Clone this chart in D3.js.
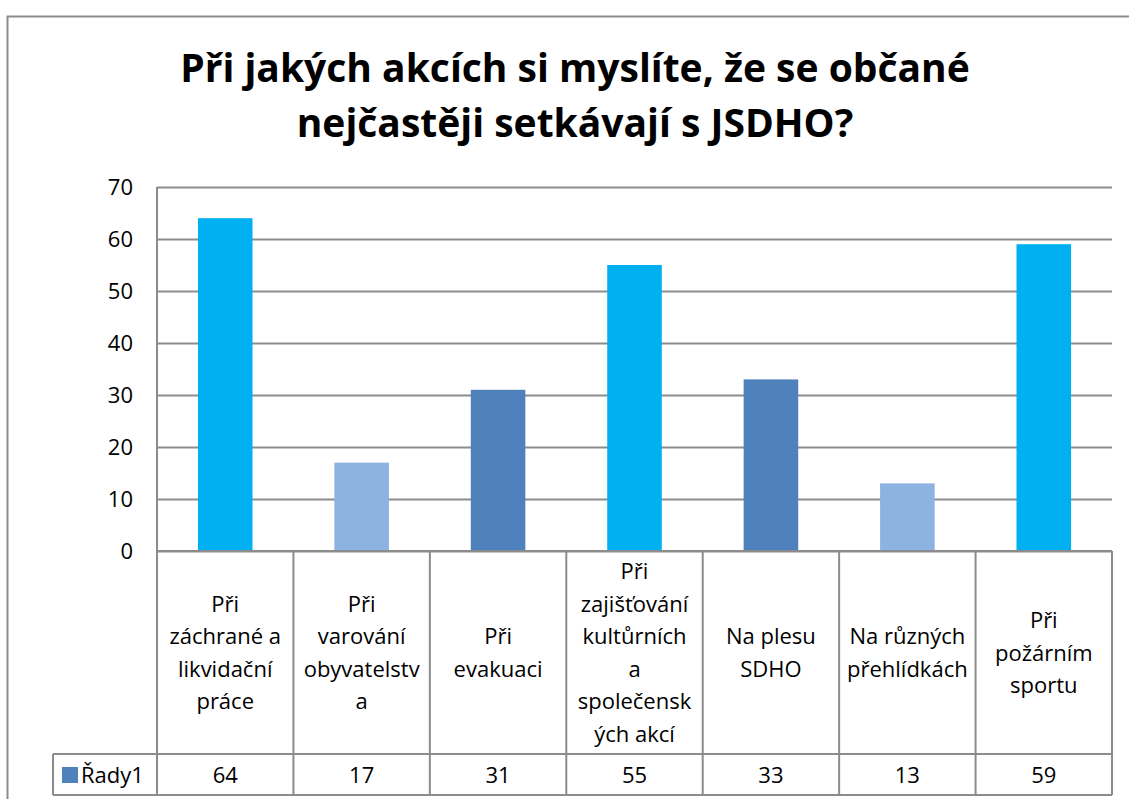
<!DOCTYPE html>
<html>
<head>
<meta charset="utf-8">
<script src="https://cdn.jsdelivr.net/npm/d3@7"></script>
<style>
  body { margin: 0; background: #fff; }
  svg text { font-family: "Open Sans", "Noto Sans", sans-serif; fill: #000; }
</style>
</head>
<body>
<div class="chart"></div>
<script>
// data
var title = ['Při jakých akcích si myslíte, že se občané', 'nejčastěji setkávají s JSDHO?'];
var categories = [
  'Při záchrané a likvidační práce',
  'Při varování obyvatelstva',
  'Při evakuaci',
  'Při zajišťování kultůrních a společenských akcí',
  'Na plesu SDHO',
  'Na různých přehlídkách',
  'Při požárním sportu'
];
// how Excel wrapped the labels in the table cells
var categoryLines = [
  ['Při', 'záchrané a', 'likvidační', 'práce'],
  ['Při', 'varování', 'obyvatelstv', 'a'],
  ['Při', 'evakuaci'],
  ['Při', 'zajišťování', 'kultůrních', 'a', 'společensk', 'ých akcí'],
  ['Na plesu', 'SDHO'],
  ['Na různých', 'přehlídkách'],
  ['Při', 'požárním', 'sportu']
];
var seriesName = 'Řady1';
var values = [64, 17, 31, 55, 33, 13, 59];
var yTicks = [0, 10, 20, 30, 40, 50, 60, 70];

var colorFor = {
  'Při záchrané a likvidační práce': '#00B0F0',
  'Při varování obyvatelstva': '#8DB3E2',
  'Při evakuaci': '#4F81BD',
  'Při zajišťování kultůrních a společenských akcí': '#00B0F0',
  'Na plesu SDHO': '#4F81BD',
  'Na různých přehlídkách': '#8DB3E2',
  'Při požárním sportu': '#00B0F0'
};

var W = 1129, H = 799;
var plotLeft = 157, plotRight = 1112, plotTop = 187, zeroY = 551;
var catBottom = 754, rowBottom = 795, legendLeft = 53;
var lineCol = '#8c8c8c';
var fs = '22px';

var svg = d3.select('.chart')
  .append('svg')
  .attr('width', W)
  .attr('height', H);

// outer chart border (runs off the right and bottom)
svg.append('path')
  .attr('d', 'M7.5,' + (H + 2) + 'V16.5H' + (W + 2))
  .attr('fill', 'none')
  .attr('stroke', lineCol)
  .attr('stroke-width', 2);

svg.selectAll('.title')
  .data(title)
  .enter().append('text')
  .attr('class', 'title')
  .attr('x', 575)
  .attr('y', function(d, i) { return 82 + i * 55; })
  .attr('text-anchor', 'middle')
  .style('font-size', '39px')
  .style('font-weight', 'bold')
  .text(function(d) { return d; });

var x = d3.scaleBand()
  .domain(categories)
  .range([plotLeft, plotRight]);

var y = d3.scaleLinear()
  .domain([0, 70])
  .range([zeroY, plotTop]);

// gridlines and tick labels
var yAxis = svg.append('g')
  .attr('transform', 'translate(' + plotLeft + ',0)')
  .call(d3.axisLeft(y).tickValues(yTicks).tickSize(-(plotRight - plotLeft)).tickPadding(24));
yAxis.select('.domain').remove();
yAxis.selectAll('.tick line')
  .attr('stroke', lineCol)
  .attr('stroke-width', 2);
yAxis.selectAll('.tick text')
  .style('font-size', fs)
  .style('font-family', '"Open Sans", sans-serif')
  .attr('fill', '#000');

// bars
var barW = x.bandwidth() * 0.4;
svg.selectAll('.bar')
  .data(values)
  .enter().append('rect')
  .attr('class', 'bar')
  .attr('x', function(d, i) { return x(categories[i]) + (x.bandwidth() - barW) / 2; })
  .attr('y', function(d) { return y(d); })
  .attr('width', barW)
  .attr('height', function(d) { return y(0) - y(d); })
  .attr('fill', function(d, i) { return colorFor[categories[i]]; });

// data table
var table = svg.append('g')
  .attr('fill', 'none')
  .attr('stroke', lineCol)
  .attr('stroke-width', 2);
table.append('line')
  .attr('x1', plotLeft).attr('x2', plotLeft).attr('y1', plotTop).attr('y2', rowBottom);
table.append('line')
  .attr('x1', plotLeft).attr('x2', plotRight).attr('y1', zeroY).attr('y2', zeroY);
table.append('line')
  .attr('x1', legendLeft).attr('x2', plotRight).attr('y1', catBottom).attr('y2', catBottom);
table.append('line')
  .attr('x1', legendLeft).attr('x2', plotRight).attr('y1', rowBottom).attr('y2', rowBottom);
table.append('line')
  .attr('x1', legendLeft).attr('x2', legendLeft).attr('y1', catBottom).attr('y2', rowBottom);
table.selectAll('.sep')
  .data(categories)
  .enter().append('line')
  .attr('class', 'sep')
  .attr('x1', function(d) { return x(d) + x.bandwidth(); })
  .attr('x2', function(d) { return x(d) + x.bandwidth(); })
  .attr('y1', zeroY)
  .attr('y2', rowBottom);

var lineH = 32.6;
var cellMid = (zeroY + catBottom) / 2;
svg.selectAll('.cat')
  .data(categories)
  .enter().append('text')
  .attr('class', 'cat')
  .attr('text-anchor', 'middle')
  .style('font-size', fs)
  .each(function(d, i) {
    var lines = categoryLines[i];
    d3.select(this).selectAll('tspan')
      .data(lines)
      .enter().append('tspan')
      .attr('x', x(d) + x.bandwidth() / 2)
      .attr('y', function(l, j) { return cellMid + (j - (lines.length - 1) / 2) * lineH + 8; })
      .text(function(l) { return l; });
  });

svg.selectAll('.val')
  .data(values)
  .enter().append('text')
  .attr('class', 'val')
  .attr('x', function(d, i) { return x(categories[i]) + x.bandwidth() / 2; })
  .attr('y', (catBottom + rowBottom) / 2 + 8)
  .attr('text-anchor', 'middle')
  .style('font-size', fs)
  .text(function(d) { return d; });

// legend key
svg.append('rect')
  .attr('x', 62).attr('y', 767)
  .attr('width', 16).attr('height', 16)
  .attr('fill', '#4F81BD');
svg.append('text')
  .attr('x', 81)
  .attr('y', (catBottom + rowBottom) / 2 + 8)
  .style('font-size', fs)
  .text(seriesName);
</script>
</body>
</html>
